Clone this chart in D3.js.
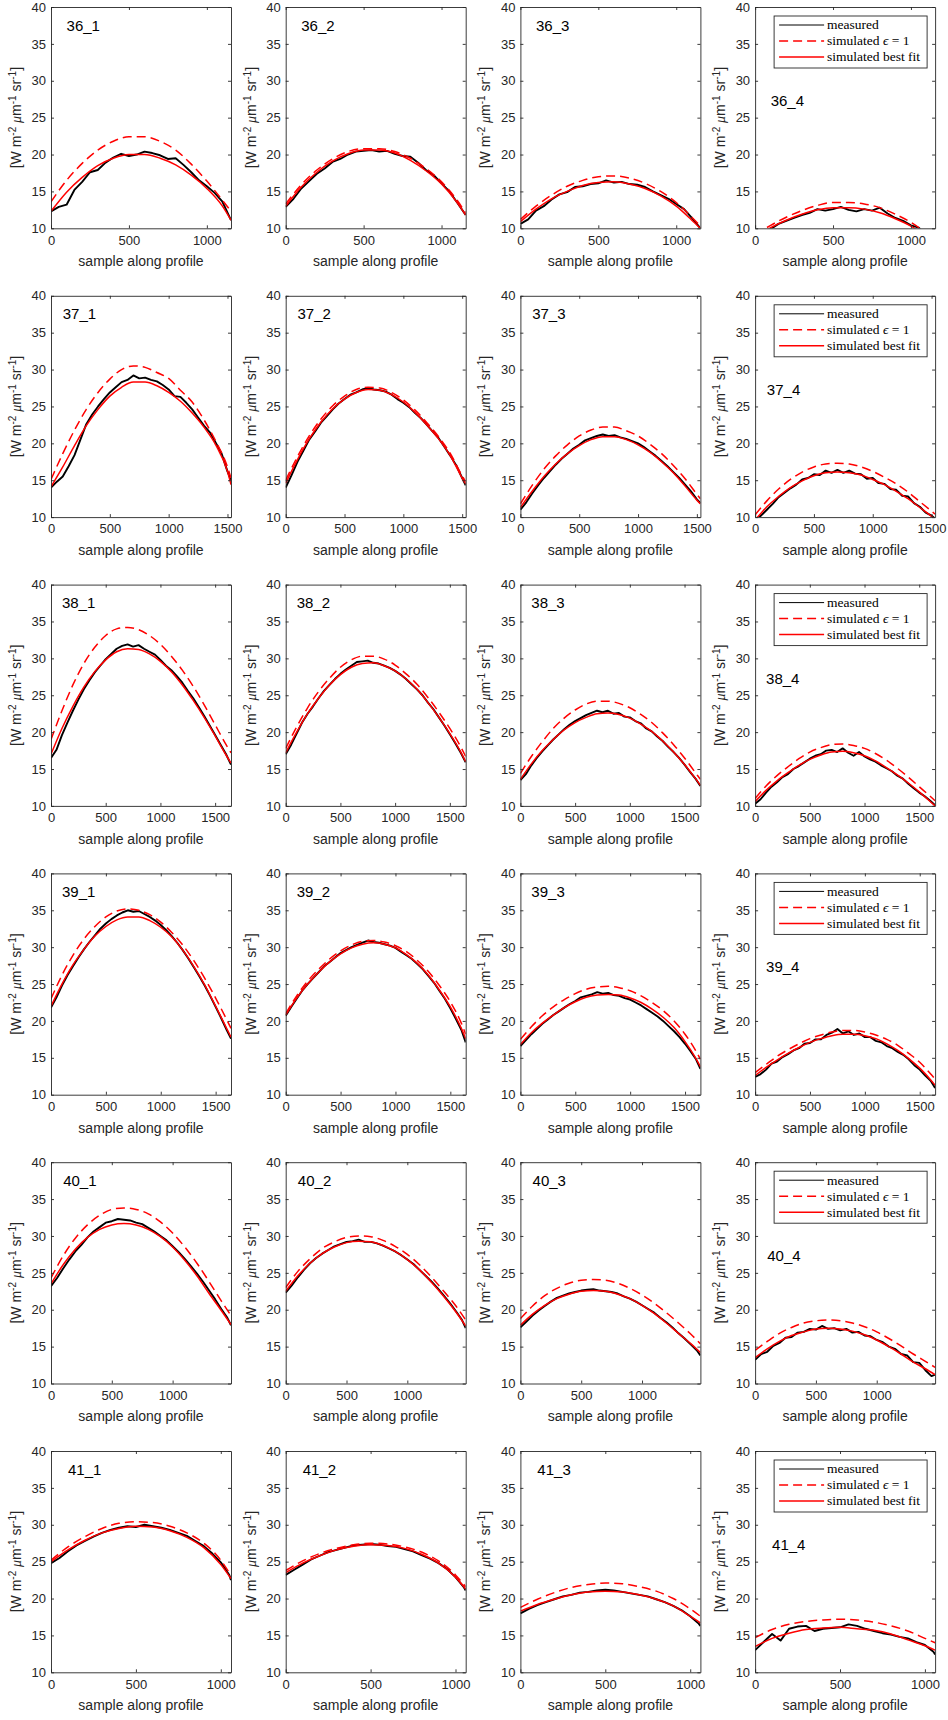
<!DOCTYPE html>
<html>
<head>
<meta charset="utf-8">
<script src="https://cdn.jsdelivr.net/npm/d3@7"></script>
<style>
  body { margin: 0; background: #fff; }
</style>
</head>
<body>
<svg id="chart" width="948" height="1720"></svg>
<script>
// Radiance profiles: 6 profiles (36..41) x 4 positions (_1.._4)
const rowIds = ["36", "37", "38", "39", "40", "41"];
const sampleMax = [1155, 1530, 1645, 1640, 1480, 1060];
const xTickValues = [
  [0, 500, 1000],
  [0, 500, 1000, 1500],
  [0, 500, 1000, 1500],
  [0, 500, 1000, 1500],
  [0, 500, 1000],
  [0, 500, 1000]
];
const yTickValues = [10, 15, 20, 25, 30, 35, 40];
const legendLabels = ["measured", "simulated ", "simulated best fit"];

// simulated best fit, every 100 samples (+ last sample)
const fit36 = [
  [12.3,14.9,16.9,18.5,19.5,20.0,20.0,19.5,18.6,17.2,15.4,13.0,11.1],
  [13.0,15.6,17.6,19.1,20.1,20.6,20.6,20.2,19.2,17.8,16.0,13.5,11.8],
  [10.9,12.6,14.0,15.0,15.8,16.2,16.3,16.0,15.4,14.4,13.0,11.1,10.0],
  [8.8,10.1,11.1,11.9,12.5,12.8,12.8,12.6,12.1,11.3,10.3,8.9,8.0]
];
const fit37 = [
  [14.1,16.8,19.7,22.4,24.6,26.4,27.6,28.3,28.3,27.8,26.9,25.7,24.1,22.2,19.8,16.2,14.4],
  [14.6,17.8,20.6,22.9,24.7,26.0,26.9,27.3,27.2,26.6,25.6,24.2,22.5,20.6,18.3,15.3,14.5],
  [11.3,13.5,15.5,17.2,18.6,19.7,20.5,20.9,20.9,20.5,19.8,18.8,17.5,16.0,14.2,12.3,11.8],
  [9.6,11.4,12.8,14.0,14.9,15.6,16.0,16.1,16.0,15.7,15.1,14.4,13.5,12.5,11.3,10.1,9.7]
];
const fit38 = [
  [17.0,20.5,23.5,26.1,28.2,29.8,30.9,31.3,31.2,30.6,29.6,28.2,26.4,24.3,22.0,19.5,16.9,15.8],
  [17.2,20.0,22.5,24.6,26.4,27.8,28.8,29.3,29.4,29.0,28.3,27.2,25.8,24.0,22.0,19.8,17.3,16.0],
  [13.6,15.7,17.5,19.0,20.3,21.3,22.0,22.5,22.6,22.4,21.9,21.1,20.1,18.8,17.3,15.6,13.7,12.8],
  [10.6,12.1,13.4,14.5,15.5,16.3,16.9,17.3,17.4,17.2,16.8,16.1,15.2,14.2,13.1,11.9,10.6,10.0]
];
const fit39 = [
  [22.0,25.0,27.6,29.7,31.5,32.8,33.7,34.1,34.1,33.6,32.7,31.4,29.6,27.4,24.9,22.0,19.0,17.8],
  [20.8,23.1,25.0,26.6,28.0,29.1,29.9,30.4,30.6,30.4,29.9,29.0,27.8,26.2,24.2,21.9,19.0,17.6],
  [16.8,18.4,19.7,20.8,21.8,22.6,23.2,23.5,23.6,23.5,23.1,22.5,21.6,20.5,19.1,17.2,14.9,13.8],
  [12.6,13.7,14.7,15.6,16.4,17.1,17.6,18.0,18.2,18.2,18.0,17.6,16.9,16.0,14.9,13.6,12.0,11.3]
];
const fit40 = [
  [23.5,26.1,28.2,29.8,30.9,31.5,31.7,31.5,30.9,29.9,28.5,26.7,24.6,22.2,19.9,18.0],
  [22.5,24.6,26.3,27.6,28.5,29.1,29.3,29.2,28.7,27.9,26.8,25.4,23.7,21.8,19.7,17.8],
  [17.9,19.4,20.6,21.5,22.1,22.5,22.6,22.5,22.1,21.5,20.6,19.5,18.2,16.8,15.4,14.2],
  [13.5,14.7,15.7,16.5,17.0,17.4,17.5,17.4,17.1,16.6,15.9,15.0,14.0,12.9,12.0,11.2]
];
const fit41 = [
  [25.0,26.6,27.9,28.9,29.5,29.8,29.7,29.2,28.3,26.9,24.6,22.7],
  [23.5,24.8,25.8,26.6,27.1,27.3,27.2,26.8,26.0,24.8,22.9,21.3],
  [18.3,19.2,19.9,20.5,20.9,21.0,20.9,20.5,19.9,19.0,17.6,16.7],
  [13.5,14.6,15.3,15.8,16.0,16.1,15.9,15.7,15.2,14.4,13.6,13.0]
];

// simulated with emissivity 1, every 100 samples (+ last sample)
const eps36 = [
  [13.6,16.5,18.8,20.6,21.8,22.4,22.4,21.8,20.6,18.7,16.4,13.8,12.3],
  [13.3,15.9,17.9,19.4,20.4,20.8,20.8,20.4,19.5,18.1,16.3,13.8,12.1],
  [11.2,13.0,14.5,15.7,16.5,17.0,17.1,16.8,16.1,15.0,13.5,11.5,10.3],
  [9.1,10.4,11.5,12.4,13.1,13.5,13.5,13.3,12.8,11.9,10.8,9.3,8.4]
];
const eps37 = [
  [15.1,18.6,21.8,24.6,26.9,28.7,30.0,30.5,30.3,29.6,28.8,27.2,25.6,23.2,20.3,16.8,15.3],
  [15.0,18.2,21.0,23.3,25.1,26.4,27.3,27.6,27.5,26.9,25.9,24.5,22.8,20.9,18.6,15.6,14.8],
  [11.8,14.3,16.5,18.3,19.8,21.0,21.8,22.2,22.2,21.7,21.0,19.9,18.6,17.0,15.2,13.1,12.5],
  [10.3,12.2,13.8,15.1,16.1,16.8,17.2,17.3,17.2,16.8,16.2,15.4,14.5,13.4,12.1,10.8,10.4]
];
const eps38 = [
  [19.0,22.9,26.4,29.3,31.5,33.1,34.0,34.2,33.9,33.1,31.9,30.3,28.4,26.2,23.7,21.0,18.3,17.2],
  [17.8,20.7,23.3,25.5,27.3,28.8,29.8,30.3,30.3,29.9,29.1,27.9,26.5,24.7,22.7,20.5,18.0,16.7],
  [14.4,16.7,18.7,20.5,21.9,23.0,23.8,24.2,24.2,23.9,23.3,22.4,21.3,19.9,18.3,16.5,14.5,13.6],
  [11.0,12.7,14.1,15.3,16.4,17.3,17.9,18.3,18.4,18.2,17.8,17.1,16.2,15.1,13.9,12.6,11.3,10.7]
];
const eps39 = [
  [23.0,26.2,28.9,31.1,32.8,34.1,34.9,35.2,35.0,34.4,33.4,32.0,30.3,28.2,25.8,23.1,20.2,19.0],
  [21.0,23.4,25.4,27.0,28.4,29.5,30.3,30.8,30.9,30.7,30.2,29.4,28.2,26.7,24.8,22.6,19.7,18.2],
  [17.5,19.2,20.7,21.9,22.9,23.7,24.3,24.6,24.7,24.5,24.1,23.4,22.5,21.4,20.0,18.2,15.9,14.8],
  [13.0,14.1,15.2,16.1,16.9,17.6,18.1,18.5,18.7,18.7,18.5,18.1,17.5,16.7,15.6,14.4,12.8,12.1]
];
const eps40 = [
  [24.3,27.3,29.7,31.5,32.8,33.6,33.8,33.6,33.0,31.9,30.4,28.5,26.3,23.8,21.2,19.2],
  [23.0,25.2,26.9,28.3,29.2,29.8,30.0,29.9,29.4,28.6,27.5,26.1,24.4,22.5,20.5,18.6],
  [18.8,20.5,21.9,22.9,23.6,24.0,24.1,24.0,23.6,22.9,22.0,20.9,19.6,18.2,16.7,15.4],
  [14.5,15.7,16.8,17.6,18.2,18.5,18.6,18.5,18.2,17.7,17.0,16.1,15.1,14.0,13.0,12.2]
];
const eps41 = [
  [25.2,27.0,28.4,29.5,30.2,30.4,30.3,29.8,28.9,27.5,25.2,23.1],
  [23.8,25.1,26.1,26.8,27.3,27.5,27.4,27.0,26.3,25.1,23.2,21.6],
  [18.8,19.9,20.8,21.5,21.9,22.1,22.0,21.6,21.0,20.0,18.6,17.6],
  [14.7,15.8,16.5,16.9,17.1,17.2,17.1,16.8,16.3,15.6,14.6,14.0]
];

// measured radiance, every 50 samples (+ last sample)
const meas36 = [
  [12.3,12.9,13.2,15.2,16.3,17.6,17.9,18.9,19.6,20.1,19.8,20.0,20.4,20.2,19.9,19.4,19.5,18.6,17.6,16.5,15.7,14.8,13.6,11.1],
  [12.9,14.0,15.4,16.4,17.4,18.1,19.0,19.4,20.0,20.4,20.5,20.6,20.4,20.5,20.1,19.8,19.7,18.9,17.9,17.2,16.1,15.0,13.5,11.8],
  [10.6,11.2,12.4,13.0,13.9,14.6,14.9,15.6,15.7,16.0,16.1,16.5,16.2,16.3,16.0,15.9,15.6,15.0,14.5,14.0,13.3,12.6,11.4,10.0],
  [8.5,9.2,9.9,10.6,11.0,11.4,11.8,12.1,12.6,12.4,12.6,12.9,12.5,12.3,12.6,12.4,12.8,12.0,11.4,11.0,10.4,10.1,9.0,8.0]
];
const meas37 = [
  [14.0,14.8,15.5,16.9,18.4,20.5,22.6,23.9,25.0,26.0,26.9,27.6,28.3,28.6,29.2,28.8,28.9,28.6,28.4,27.9,27.3,26.4,26.3,25.5,24.6,23.5,22.4,21.5,20.1,18.6,16.2,15.0],
  [14.0,15.7,17.5,19.0,20.5,21.6,22.8,23.7,24.6,25.4,26.0,26.6,26.9,27.3,27.5,27.3,27.2,27.0,26.6,26.0,25.5,24.9,24.1,23.4,22.5,21.6,20.7,19.5,18.3,17.0,15.3,14.3],
  [11.0,12.0,13.2,14.3,15.3,16.2,17.1,17.9,18.6,19.3,19.8,20.4,20.7,21.0,21.2,21.0,21.1,20.8,20.6,20.3,20.0,19.5,18.9,18.3,17.6,16.9,16.1,15.3,14.4,13.5,12.4,11.9],
  [9.6,10.2,11.0,11.8,12.7,13.3,13.9,14.4,15.1,15.3,15.8,15.7,16.3,16.0,16.4,16.0,16.3,15.9,15.8,15.2,15.3,14.6,14.5,13.8,13.7,12.9,12.8,11.9,11.4,10.6,10.2,9.8]
];
const meas38 = [
  [16.5,17.6,19.6,21.3,22.9,24.4,25.8,27.0,28.1,29.0,29.9,30.6,31.3,31.7,31.9,31.6,31.8,31.3,30.9,30.5,29.8,29.0,28.4,27.6,26.7,25.6,24.6,23.4,22.2,20.9,19.6,18.3,17.0,15.6],
  [17.0,18.3,19.8,21.3,22.5,23.5,24.6,25.6,26.4,27.2,27.9,28.5,29.0,29.5,29.6,29.7,29.4,29.3,29.0,28.7,28.3,27.8,27.2,26.5,25.8,25.0,24.0,23.1,22.0,20.9,19.7,18.5,17.2,15.9],
  [13.5,14.3,15.5,16.5,17.4,18.2,19.0,19.7,20.4,21.0,21.5,21.9,22.3,22.6,22.9,22.7,22.9,22.5,22.6,22.1,22.0,21.5,21.2,20.5,20.1,19.4,18.8,18.0,17.3,16.5,15.6,14.6,13.7,12.7],
  [10.3,10.9,11.8,12.6,13.2,13.9,14.3,15.0,15.4,15.9,16.4,16.8,17.0,17.5,17.6,17.3,17.8,17.2,16.8,17.3,16.7,16.3,16.0,15.5,15.1,14.7,14.1,13.7,13.0,12.4,11.8,11.3,10.7,10.1]
];
const meas39 = [
  [21.8,23.2,24.8,26.2,27.4,28.6,29.7,30.7,31.6,32.5,33.2,33.8,34.3,34.7,35.0,34.8,34.9,34.5,34.1,33.6,33.0,32.3,31.5,30.6,29.6,28.5,27.3,26.1,24.8,23.4,21.9,20.4,18.8,17.6],
  [20.7,21.9,23.0,24.1,25.0,25.8,26.6,27.4,28.0,28.6,29.2,29.6,30.0,30.3,30.6,30.9,30.7,30.6,30.4,30.2,29.9,29.4,28.9,28.4,27.7,27.0,26.1,25.2,24.1,23.0,21.7,20.3,18.8,17.1],
  [16.6,17.4,18.2,18.9,19.6,20.2,20.8,21.3,21.8,22.3,22.7,23.2,23.4,23.6,23.9,23.7,23.8,23.5,23.4,23.1,22.9,22.5,22.1,21.6,21.1,20.6,20.0,19.3,18.6,17.8,16.9,15.9,14.8,13.5],
  [12.4,12.8,13.4,14.2,14.5,15.1,15.5,16.0,16.3,16.9,17.0,17.5,17.5,18.1,18.4,18.9,18.3,18.6,18.1,18.3,17.8,17.8,17.3,17.1,16.6,16.3,15.8,15.4,14.8,14.0,13.4,12.6,11.9,10.9]
];
const meas40 = [
  [23.2,24.3,25.6,26.8,27.9,28.8,29.8,30.6,31.2,31.8,32.0,32.3,32.2,32.1,31.8,31.6,31.1,30.6,30.0,29.4,28.6,27.8,26.9,25.9,24.9,23.8,22.6,21.4,20.1,18.9,17.9],
  [22.3,23.3,24.4,25.4,26.3,27.0,27.6,28.1,28.6,28.9,29.2,29.3,29.5,29.2,29.2,29.0,28.7,28.3,27.9,27.4,26.8,26.2,25.4,24.6,23.8,22.9,21.9,20.9,19.8,18.6,17.5],
  [17.6,18.4,19.2,19.9,20.5,21.1,21.6,21.9,22.2,22.4,22.6,22.7,22.8,22.6,22.5,22.4,22.2,21.8,21.5,21.1,20.6,20.1,19.6,18.9,18.3,17.6,16.8,16.1,15.3,14.5,13.8],
  [13.2,14.0,14.3,15.1,15.5,16.2,16.3,16.9,17.0,17.4,17.3,17.8,17.4,17.5,17.2,17.4,16.9,17.0,16.5,16.4,15.9,15.6,15.0,14.7,14.0,13.8,12.9,12.8,11.8,11.0,11.2]
];
const meas41 = [
  [24.8,25.5,26.4,27.2,27.8,28.4,28.9,29.3,29.6,29.8,29.7,30.0,29.8,29.6,29.3,28.9,28.5,27.8,27.1,26.1,24.9,23.2,22.5],
  [23.2,23.9,24.6,25.3,25.8,26.3,26.6,26.9,27.2,27.3,27.4,27.3,27.1,27.0,26.7,26.4,25.9,25.4,24.8,24.0,22.9,21.5,21.1],
  [18.0,18.6,19.1,19.5,19.9,20.3,20.5,20.8,20.9,21.1,21.2,21.1,20.9,20.7,20.5,20.3,19.9,19.5,19.0,18.4,17.6,16.6,16.3],
  [13.0,14.1,15.2,14.3,15.9,16.2,16.3,15.6,15.9,16.0,16.1,16.5,16.3,15.9,15.6,15.3,15.1,14.8,14.6,14.1,13.7,12.8,12.4]
];

const fitRows = [fit36, fit37, fit38, fit39, fit40, fit41];
const epsRows = [eps36, eps37, eps38, eps39, eps40, eps41];
const measRows = [meas36, meas37, meas38, meas39, meas40, meas41];

// sample positions along a profile: regular steps, closed by the last sample
function sampleGrid(max, step) {
  const g = [];
  for (let s = 0; s <= max - 10; s += step) g.push(s);
  g.push(max);
  return g;
}

const sansFont = "'Liberation Sans', Arial, Helvetica, sans-serif";
const serifFont = "'Liberation Serif', 'Times New Roman', serif";
const svg = d3.select("#chart");
const axisColor = "#262626";
const panelW = 180, panelH = 221.3;
const colX = i => 51 + 234.7 * i;
const rowY = j => 7 + 288.8 * j;

rowIds.forEach((rid, j) => {
  const xMax = sampleMax[j];
  const fitX = sampleGrid(xMax, 100);
  const measX = sampleGrid(xMax, 50);

  for (let i = 0; i < 4; i++) {
    const g = svg.append("g").attr("transform", `translate(${colX(i)},${rowY(j)})`);
    const x = d3.scaleLinear().domain([0, xMax]).range([0, panelW]);
    const y = d3.scaleLinear().domain([10, 40]).range([panelH, 0]);
    const clipId = `clip-${rid}-${i + 1}`;
    g.append("clipPath").attr("id", clipId)
      .append("rect").attr("width", panelW).attr("height", panelH);

    const plot = g.append("g").attr("clip-path", `url(#${clipId})`);
    const lineLinear = d3.line().x(d => x(d[0])).y(d => y(d[1]));
    const lineSmooth = d3.line().x(d => x(d[0])).y(d => y(d[1])).curve(d3.curveMonotoneX);

    plot.append("path")
      .datum(d3.zip(measX, measRows[j][i]))
      .attr("d", lineLinear)
      .attr("fill", "none").attr("stroke", "#000").attr("stroke-width", 1.9)
      .attr("stroke-linejoin", "round");
    plot.append("path")
      .datum(d3.zip(fitX, epsRows[j][i]))
      .attr("d", lineSmooth)
      .attr("fill", "none").attr("stroke", "#ff0000").attr("stroke-width", 1.5)
      .attr("stroke-dasharray", "9,5");
    plot.append("path")
      .datum(d3.zip(fitX, fitRows[j][i]))
      .attr("d", lineSmooth)
      .attr("fill", "none").attr("stroke", "#ff0000").attr("stroke-width", 1.5);

    // box axes with inward ticks on all four sides
    const styleAxis = sel => {
      sel.selectAll("path.domain").attr("stroke", axisColor).attr("stroke-width", 0.9);
      sel.selectAll(".tick line").attr("stroke", axisColor).attr("stroke-width", 0.9);
      sel.selectAll(".tick text").attr("fill", axisColor)
        .style("font-size", "13px").style("font-family", sansFont);
    };
    g.append("g").attr("transform", `translate(0,${panelH})`)
      .call(d3.axisBottom(x).tickValues(xTickValues[j]).tickFormat(d3.format("d"))
        .tickSize(-3).tickSizeOuter(0).tickPadding(7))
      .call(styleAxis);
    g.append("g")
      .call(d3.axisTop(x).tickValues(xTickValues[j]).tickSize(-3).tickSizeOuter(0).tickFormat(""))
      .call(styleAxis);
    g.append("g")
      .call(d3.axisLeft(y).tickValues(yTickValues).tickFormat(d3.format("d"))
        .tickSize(-3).tickSizeOuter(0).tickPadding(5))
      .call(styleAxis);
    g.append("g").attr("transform", `translate(${panelW},0)`)
      .call(d3.axisRight(y).tickValues(yTickValues).tickSize(-3).tickSizeOuter(0).tickFormat(""))
      .call(styleAxis);

    // axis titles
    g.append("text")
      .attr("x", panelW / 2).attr("y", panelH + 38)
      .attr("text-anchor", "middle").attr("fill", axisColor)
      .style("font-size", "14px").style("font-family", sansFont)
      .text("sample along profile");

    const yl = g.append("text")
      .attr("transform", `translate(-30,${panelH / 2}) rotate(-90)`)
      .attr("text-anchor", "middle").attr("fill", axisColor)
      .style("font-size", "14px").style("font-family", sansFont);
    yl.append("tspan").text("[W m");
    yl.append("tspan").attr("dy", -5).style("font-size", "10px").text("-2");
    yl.append("tspan").attr("dy", 5).text(" ");
    yl.append("tspan").style("font-style", "italic").style("font-family", serifFont).text("μ");
    yl.append("tspan").text("m");
    yl.append("tspan").attr("dy", -5).style("font-size", "10px").text("-1");
    yl.append("tspan").attr("dy", 5).text(" sr");
    yl.append("tspan").attr("dy", -5).style("font-size", "10px").text("-1");
    yl.append("tspan").attr("dy", 5).text("]");

    // panel name
    g.append("text")
      .attr("x", x(100)).attr("y", y(i === 3 ? 27.3 : 37.5))
      .attr("dy", "0.35em").attr("fill", "#000")
      .style("font-size", "15px").style("font-family", sansFont)
      .text(`${rid}_${i + 1}`);

    // legend on the rightmost panel
    if (i === 3) {
      const lg = g.append("g").attr("transform", "translate(19,9)");
      lg.append("rect").attr("width", 153).attr("height", 52)
        .attr("fill", "#fff").attr("stroke", axisColor).attr("stroke-width", 0.9);
      const rowsY = [9, 25, 41];
      const styles = [
        { stroke: "#000", dash: null, w: 1 },
        { stroke: "#ff0000", dash: "9,5", w: 1.5 },
        { stroke: "#ff0000", dash: null, w: 1.5 }
      ];
      legendLabels.forEach((lab, k) => {
        lg.append("line").attr("x1", 5).attr("x2", 50).attr("y1", rowsY[k]).attr("y2", rowsY[k])
          .attr("stroke", styles[k].stroke).attr("stroke-width", styles[k].w)
          .attr("stroke-dasharray", styles[k].dash);
        const t = lg.append("text").attr("x", 53).attr("y", rowsY[k]).attr("dy", "0.33em")
          .attr("fill", "#000")
          .style("font-size", "13.5px").style("font-family", serifFont)
          .text(lab);
        if (k === 1) {
          t.append("tspan").style("font-style", "italic").text("ϵ");
          t.append("tspan").text(" = 1");
        }
      });
    }
  }
});
</script>
</body>
</html>
